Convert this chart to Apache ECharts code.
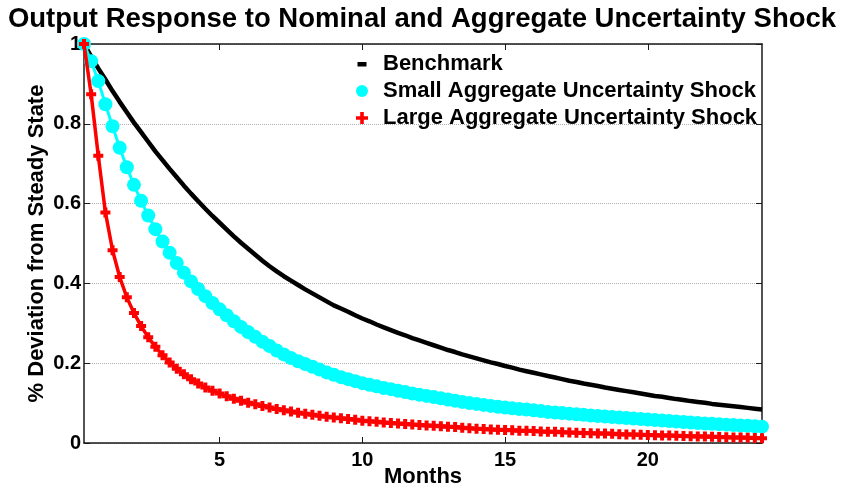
<!DOCTYPE html>
<html><head><meta charset="utf-8">
<script src="https://cdn.jsdelivr.net/npm/echarts@6/dist/echarts.min.js"></script>
<style>html,body{margin:0;padding:0;background:#fff}#c{width:844px;height:489px}</style>
</head><body><div id="c"></div>
<script>
const titleText = 'Output Response to Nominal and Aggregate Uncertainty Shock';
const xName = 'Months';
const yName = '% Deviation from Steady State';
const seriesNames = ['Benchmark', 'Small Aggregate Uncertainty Shock', 'Large Aggregate Uncertainty Shock'];
const xTicks = [5, 10, 15, 20];

const months = [
0.25,0.5,0.75,1,1.25,1.5,1.75,2,
2.25,2.5,2.75,3,3.25,3.5,3.75,4,
4.25,4.5,4.75,5,5.25,5.5,5.75,6,
6.25,6.5,6.75,7,7.25,7.5,7.75,8,
8.25,8.5,8.75,9,9.25,9.5,9.75,10,
10.25,10.5,10.75,11,11.25,11.5,11.75,12,
12.25,12.5,12.75,13,13.25,13.5,13.75,14,
14.25,14.5,14.75,15,15.25,15.5,15.75,16,
16.25,16.5,16.75,17,17.25,17.5,17.75,18,
18.25,18.5,18.75,19,19.25,19.5,19.75,20,
20.25,20.5,20.75,21,21.25,21.5,21.75,22,
22.25,22.5,22.75,23,23.25,23.5,23.75,24];

const benchmark = [
1.000,0.969,0.939,0.911,0.882,0.855,0.829,0.803,
0.779,0.755,0.731,0.709,0.687,0.666,0.645,0.625,
0.606,0.587,0.569,0.552,0.535,0.518,0.502,0.487,
0.472,0.457,0.443,0.430,0.418,0.407,0.396,0.385,
0.375,0.365,0.355,0.345,0.337,0.329,0.320,0.312,
0.305,0.297,0.290,0.283,0.276,0.270,0.263,0.257,
0.251,0.245,0.239,0.233,0.228,0.222,0.217,0.212,
0.207,0.202,0.198,0.193,0.189,0.184,0.180,0.176,
0.172,0.168,0.164,0.160,0.156,0.153,0.149,0.146,
0.143,0.139,0.136,0.133,0.130,0.127,0.124,0.121,
0.118,0.116,0.113,0.110,0.108,0.105,0.103,0.101,
0.098,0.096,0.094,0.092,0.090,0.088,0.086,0.084];

const smallShock = [
1.000,0.957,0.907,0.849,0.794,0.740,0.691,0.647,
0.607,0.570,0.536,0.505,0.477,0.451,0.427,0.405,
0.386,0.368,0.351,0.335,0.320,0.305,0.291,0.278,
0.266,0.254,0.243,0.232,0.222,0.213,0.205,0.198,
0.191,0.184,0.177,0.171,0.165,0.160,0.155,0.150,
0.146,0.142,0.138,0.135,0.131,0.128,0.124,0.121,
0.118,0.115,0.112,0.109,0.106,0.103,0.100,0.098,
0.0955,0.093,0.091,0.089,0.0872,0.0854,0.0837,0.082,
0.080,0.078,0.0765,0.075,0.0735,0.072,0.0705,0.069,
0.0677,0.0665,0.0652,0.064,0.0627,0.0615,0.0602,0.059,
0.0577,0.0565,0.0552,0.054,0.0527,0.0515,0.0502,0.049,
0.048,0.047,0.046,0.045,0.044,0.043,0.042,0.041];

const largeShock = [
1.000,0.874,0.720,0.578,0.483,0.416,0.365,0.326,
0.293,0.265,0.241,0.220,0.202,0.186,0.172,0.160,
0.149,0.139,0.131,0.124,0.117,0.111,0.106,0.101,
0.097,0.093,0.089,0.085,0.082,0.079,0.076,0.073,
0.071,0.068,0.066,0.064,0.062,0.060,0.058,0.056,
0.0545,0.053,0.0515,0.050,0.0487,0.0475,0.0462,0.045,
0.044,0.043,0.042,0.041,0.040,0.0385,0.037,0.036,
0.035,0.034,0.033,0.0325,0.032,0.031,0.0305,0.030,
0.029,0.0285,0.028,0.027,0.0265,0.026,0.025,0.0245,
0.024,0.0235,0.023,0.022,0.0215,0.021,0.0205,0.020,
0.0195,0.019,0.0185,0.018,0.0175,0.017,0.0165,0.016,
0.0155,0.015,0.0145,0.014,0.0135,0.013,0.0125,0.012];

function pairs(vals) { return months.map((m, i) => [m, vals[i]]); }

const FONT = "'Liberation Sans', Arial, Helvetica, sans-serif";
const AXC = '#1a1a1a';
const plusPath = 'path://M3,0H7V3H10V7H7V10H3V7H0V3H3Z';

const chart = echarts.init(document.getElementById('c'), null, {renderer: 'canvas'});
chart.setOption({
  animation: false,
  backgroundColor: '#fff',
  textStyle: {fontFamily: FONT},
  title: {
    text: titleText, left: 'center', top: 0,
    textStyle: {fontFamily: FONT, fontSize: 27.5, fontWeight: 'bold', color: '#000'}
  },
  grid: {left: 84, top: 44, width: 678, height: 399, containLabel: false, outerBoundsMode: 'none'},
  legend: {
    orient: 'vertical', left: 347, top: 48, itemGap: 5,
    itemWidth: 20, itemHeight: 14,
    textStyle: {fontFamily: FONT, fontSize: 22, fontWeight: 'bold', color: '#000', lineHeight: 22, padding: [0, 0, 0, 6]},
    selectedMode: false,
    data: [
      {name: seriesNames[0], icon: 'path://M0,0M20,14M5.5,5H14.5V9.5H5.5Z'},
      {name: seriesNames[1], icon: 'path://M0,0M20,14M4,7A6,6 0 1 0 16,7A6,6 0 1 0 4,7Z'},
      {name: seriesNames[2], icon: 'path://M0,0M20,14M8.2,1H11.8V5.2H16V8.8H11.8V13H8.2V8.8H4V5.2H8.2Z'}
    ]
  },
  xAxis: [{
    type: 'value', position: 'bottom', min: 0.25, max: 24,
    name: xName, nameLocation: 'middle', nameGap: 23, nameMoveOverlap: false,
    nameTextStyle: {fontFamily: FONT, fontSize: 22, fontWeight: 'bold', color: '#000'},
    axisLine: {show: true, onZero: false, lineStyle: {color: AXC, width: 1.5}},
    axisTick: {show: true, inside: true, length: 6, customValues: xTicks, lineStyle: {color: AXC, width: 1}},
    axisLabel: {show: true, customValues: xTicks, margin: 7, fontFamily: FONT, fontSize: 20, fontWeight: 'bold', color: '#000'},
    splitLine: {show: false}
  }, {
    type: 'value', position: 'top', min: 0.25, max: 24,
    axisLine: {show: true, onZero: false, lineStyle: {color: AXC, width: 1.5}},
    axisTick: {show: true, inside: true, length: 6, customValues: xTicks, lineStyle: {color: AXC, width: 1}},
    axisLabel: {show: false},
    splitLine: {show: false}
  }],
  yAxis: [{
    type: 'value', position: 'left', min: 0, max: 1, interval: 0.2,
    name: yName, nameLocation: 'middle', nameRotate: 90, nameGap: 36, nameMoveOverlap: false,
    nameTextStyle: {fontFamily: FONT, fontSize: 22, fontWeight: 'bold', color: '#000'},
    axisLine: {show: true, onZero: false, lineStyle: {color: AXC, width: 1.5}},
    axisTick: {show: true, inside: true, length: 6, lineStyle: {color: AXC, width: 1}},
    axisLabel: {show: true, margin: 3, fontFamily: FONT, fontSize: 20, fontWeight: 'bold', color: '#000'},
    splitLine: {show: true, lineStyle: {color: '#b0b0b0', type: 'dotted', width: 1}}
  }, {
    type: 'value', position: 'right', min: 0, max: 1, interval: 0.2,
    axisLine: {show: true, onZero: false, lineStyle: {color: AXC, width: 1.5}},
    axisTick: {show: true, inside: true, length: 6, lineStyle: {color: AXC, width: 1}},
    axisLabel: {show: false},
    splitLine: {show: false}
  }],
  series: [{
    name: seriesNames[0], type: 'line', xAxisIndex: 0, yAxisIndex: 0,
    data: pairs(benchmark), symbol: 'none', clip: false,
    lineStyle: {color: '#000', width: 4.5}, itemStyle: {color: '#000'}, z: 2
  }, {
    name: seriesNames[1], type: 'line', xAxisIndex: 0, yAxisIndex: 0,
    data: pairs(smallShock), symbol: 'circle', symbolSize: 14, showAllSymbol: true, clip: false,
    lineStyle: {color: '#00ffff', width: 3}, itemStyle: {color: '#00ffff', borderWidth: 0}, z: 3
  }, {
    name: seriesNames[2], type: 'line', xAxisIndex: 0, yAxisIndex: 0,
    data: pairs(largeShock), symbol: plusPath, symbolSize: 10, showAllSymbol: true, clip: false,
    lineStyle: {color: '#ff0000', width: 3.5}, itemStyle: {color: '#ff0000', borderWidth: 0}, z: 4
  }]
});
</script>
</body></html>
